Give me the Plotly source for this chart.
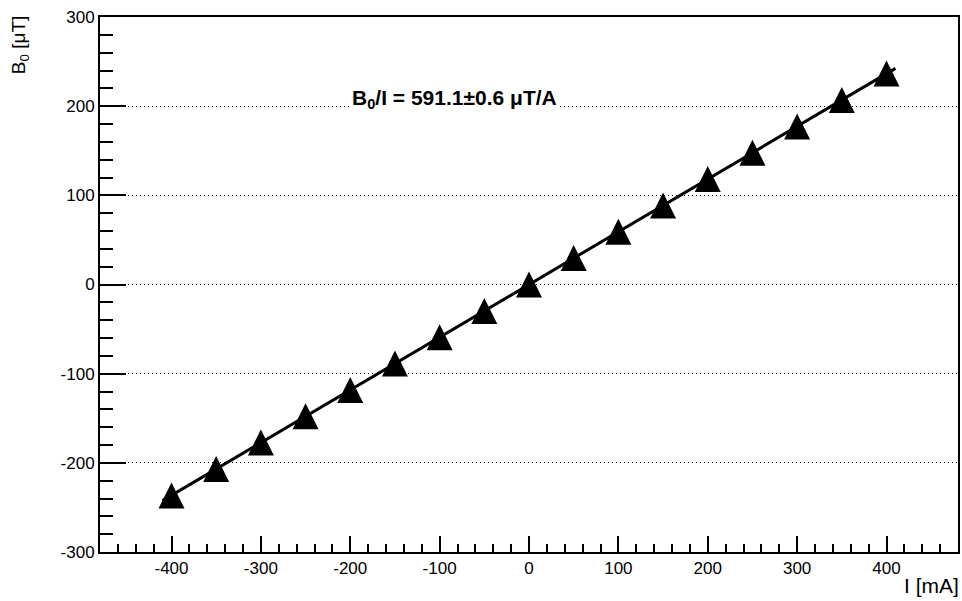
import plotly.graph_objects as go

# Data
current_mA = [-400, -350, -300, -250, -200, -150, -100, -50, 0, 50, 100, 150, 200, 250, 300, 350, 400]
B0_uT = [-236.5, -206.9, -177.3, -147.8, -118.2, -88.7, -59.1, -29.6, 0.0,
         29.6, 59.1, 88.7, 118.2, 147.8, 177.3, 206.9, 236.5]

# Linear fit B0 = k * I  (k = 591.1 uT/A = 0.5911 uT/mA)
fit_slope = 0.5911
fit_range = [-410, 410]
fit_y = [fit_slope * x for x in fit_range]

x_ticks = [-400, -300, -200, -100, 0, 100, 200, 300, 400]
y_ticks = [-300, -200, -100, 0, 100, 200, 300]

FONT = "Liberation Sans, Arial, Helvetica, sans-serif"

fig = go.Figure()

fig.add_trace(go.Scatter(
    x=fit_range, y=fit_y, mode="lines",
    line=dict(color="black", width=3),
    showlegend=False, hoverinfo="skip",
))

# arrow-down rotated by 180 deg = upward triangle; standoff recentres it on the point
fig.add_trace(go.Scatter(
    x=current_mA, y=B0_uT, mode="markers",
    marker=dict(symbol="arrow-down", size=26, color="black", angle=180,
                standoff=13, line=dict(width=0)),
    showlegend=False,
))

fig.update_layout(
    width=962, height=601,
    margin=dict(l=100, r=2, t=17, b=49),
    paper_bgcolor="white", plot_bgcolor="white",
    font=dict(family=FONT, size=17, color="black"),
    xaxis=dict(
        range=[-480, 480], tickvals=x_ticks, ticktext=[str(v) for v in x_ticks],
        ticks="inside", ticklen=16, tickwidth=1.5, tickcolor="black",
        minor=dict(dtick=20, tick0=0, ticks="inside", ticklen=8, tickcolor="black",
                   tickwidth=1.5, showgrid=False),
        showline=True, linecolor="black", linewidth=2, mirror=True,
        showgrid=False, zeroline=False,
        tickfont=dict(size=17),
    ),
    yaxis=dict(
        range=[-300, 300], tickvals=y_ticks, ticktext=[str(v) for v in y_ticks],
        ticks="inside", ticklen=26, tickwidth=1.5, tickcolor="black",
        minor=dict(dtick=20, tick0=0, ticks="inside", ticklen=13, tickcolor="black",
                   tickwidth=1.5, showgrid=False),
        showline=True, linecolor="black", linewidth=2, mirror=True,
        showgrid=True, gridcolor="black", gridwidth=1, griddash="1px,3px",
        zeroline=False,
        tickfont=dict(size=17),
    ),
    annotations=[
        dict(text="<b>B<sub>0</sub>/I = 591.1±0.6 μT/A</b>", xref="x", yref="y",
             x=-199, y=208, xanchor="left", yanchor="middle", showarrow=False,
             font=dict(size=21, family=FONT), bgcolor="white", borderpad=0),
        dict(text="B<sub>0</sub> [μT]", xref="paper", yref="paper",
             x=(20 - 100) / 860, y=1, xanchor="center", yanchor="top", yshift=3,
             textangle=-90, showarrow=False, font=dict(size=19, family=FONT)),
        dict(text="I [mA]", xref="paper", yref="paper",
             x=1, y=-(572 - 552) / 535, xanchor="right", yanchor="top", xshift=3,
             showarrow=False, font=dict(size=21, family=FONT)),
    ],
)

fig.write_html(
    "out.html",
    config={"displayModeBar": False},
    post_script="document.body.style.margin='0';document.body.style.overflow='hidden';"
                "document.documentElement.style.overflow='hidden';",
)
